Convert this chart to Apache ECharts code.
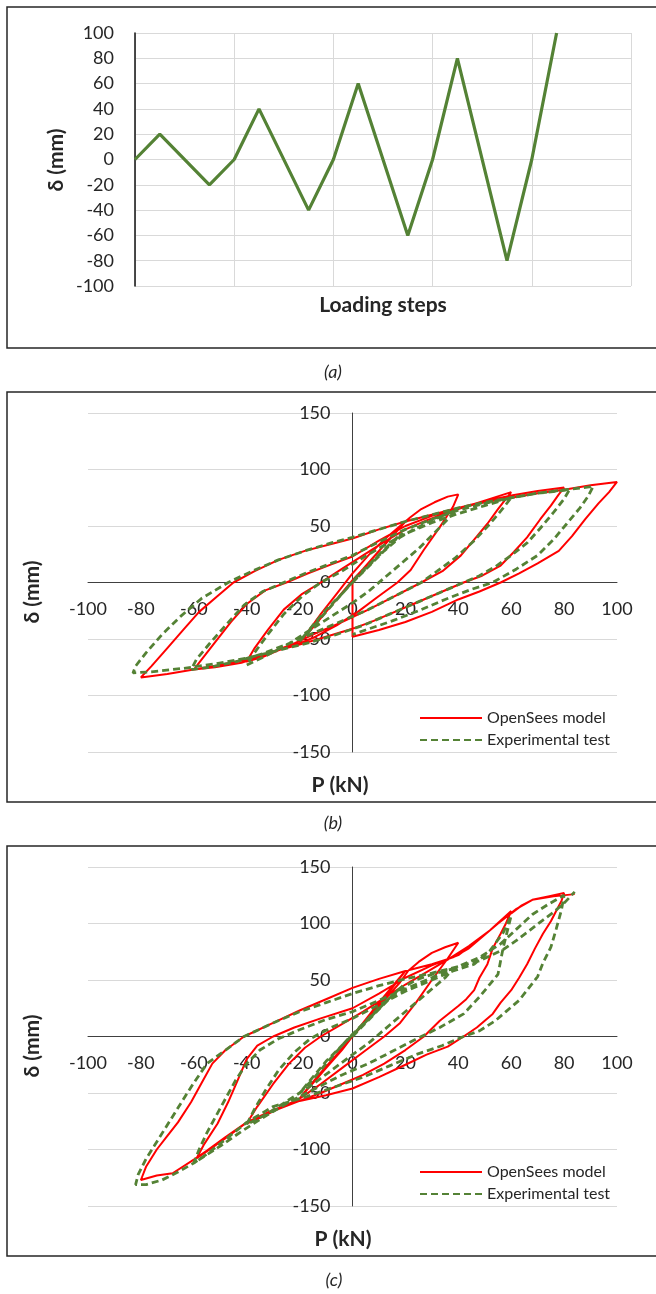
<!DOCTYPE html>
<html>
<head>
<meta charset="utf-8">
<script src="https://cdn.jsdelivr.net/npm/echarts@6/dist/echarts.min.js"></script>
<style>
  html, body { margin: 0; padding: 0; background: #fff; }
  #chart { width: 656px; height: 1294px; }
</style>
</head>
<body>
<div id="chart"></div>
<script>
// (a) loading protocol
const loadingStep  = [0, 1, 3, 4, 5, 7, 8, 9, 11, 12, 13, 15, 16, 17];
const loadingDelta = [0, 20, -20, 0, 40, -40, 0, 60, -60, 0, 80, -80, 0, 100];

const seriesNames = ['OpenSees model', 'Experimental test'];

// (b) hysteresis, [P (kN), delta (mm)]
const bModel = [
  [0,0],[6,17],[12,33],[17,46],[20,54],
  [16,44],[10,28],[4,12],[0,2],[-5,-12],[-10,-26],[-15,-40],[-20,-53],
  [-17,-44],[-12,-28],[-6,-10],[0,8],[6,24],[12,38],[18,50],[22,58],[26,65],[31,71],[36,76],[40,78],
  [38,67],[33,49],[27,29],[22,11],[17,0],[10,-12],[2,-26],[-6,-38],[-14,-48],[-20,-54],[-28,-60],[-34,-66],[-40,-70],
  [-37,-58],[-32,-42],[-26,-24],[-19,-10],[-12,0],[-4,12],[4,24],[12,36],[20,47],[28,55],[36,62],[44,68],[52,74],[60,80],
  [58,74],[55,65],[51,52],[46,38],[41,24],[34,10],[26,0],[16,-12],[6,-24],[-4,-35],[-14,-45],[-22,-54],[-32,-63],[-42,-71],[-52,-75],[-60,-77],
  [-57,-68],[-52,-53],[-46,-35],[-40,-19],[-33,-7],[-25,0],[-17,8],[-8,16],[0,23],[10,37],[20,50],[30,59],[40,66],[50,72],[60,77],[70,81],[80,84],
  [78,78],[75,68],[71,56],[66,40],[61,27],[56,15],[49,6],[42,0],[34,-8],[25,-17],[16,-26],[8,-34],[0,-41],[-10,-48],[-20,-55],[-30,-61],[-40,-68],[-50,-73],[-60,-77],[-70,-81],[-80,-84],
  [-76,-74],[-70,-58],[-64,-42],[-58,-26],[-51,-12],[-45,0],[-37,10],[-28,20],[-18,28],[-8,34],[0,39],[10,47],[20,54],[30,60],[40,66],[50,71],[60,75],[70,79],[80,82],[90,86],[100,89],
  [97,80],[93,70],[88,56],[83,41],[78,28],[70,17],[63,8],[56,0],[48,-8],[40,-15],[30,-26],[20,-35],[10,-42],[0,-48],[0,0]
];
const bExp = [
  [0,0],[5,12],[10,24],[15,35],[19,44],
  [15,36],[8,20],[2,6],[-4,-10],[-10,-24],[-15,-38],[-20,-52],
  [-16,-42],[-10,-26],[-4,-10],[0,0],[6,14],[12,28],[18,40],[24,48],[30,55],[35,60],[39,64],
  [36,56],[31,44],[25,30],[18,16],[12,4],[6,-8],[0,-18],[-8,-30],[-16,-42],[-24,-54],[-32,-64],[-40,-73],
  [-37,-62],[-32,-46],[-26,-28],[-19,-12],[-12,0],[-4,10],[4,22],[12,33],[20,43],[30,53],[40,61],[50,68],[60,75],
  [57,66],[52,52],[46,37],[39,22],[32,10],[26,0],[16,-12],[6,-24],[-4,-34],[-14,-44],[-24,-54],[-34,-63],[-44,-70],[-54,-75],[-61,-77],
  [-59,-68],[-54,-54],[-48,-38],[-41,-20],[-34,-8],[-26,0],[-18,8],[-8,17],[0,24],[10,36],[20,47],[30,56],[40,64],[50,70],[60,75],[70,79],[82,82],
  [80,74],[76,62],[71,48],[66,35],[60,24],[54,14],[48,6],[42,0],[34,-8],[24,-18],[14,-28],[4,-38],[-6,-46],[-16,-53],[-28,-60],[-40,-67],[-52,-72],[-64,-76],[-76,-79],[-83,-80],
  [-82,-74],[-78,-62],[-72,-46],[-65,-30],[-57,-14],[-47,0],[-38,10],[-28,20],[-18,28],[-8,35],[0,40],[10,47],[20,54],[30,60],[40,66],[50,71],[60,75],[70,79],[80,82],[91,85],
  [89,76],[86,66],[81,52],[76,38],[70,24],[62,12],[53,0],[45,-6],[35,-15],[25,-25],[15,-34],[5,-42],[0,-46]
];

// (c) hysteresis, [P (kN), delta (mm)]
const cModel = [
  [0,0],[7,20],[14,40],[20,58],
  [16,47],[10,30],[4,12],[0,0],[-6,-16],[-12,-32],[-17,-46],[-20,-55],
  [-16,-44],[-10,-28],[-4,-12],[0,0],[6,16],[12,32],[18,48],[21,58],[25,66],[30,74],[35,79],[40,83],
  [36,69],[30,50],[24,30],[18,12],[12,0],[4,-14],[-4,-28],[-12,-42],[-20,-55],[-28,-64],[-35,-72],[-40,-77],
  [-36,-62],[-30,-42],[-24,-24],[-18,-10],[-12,0],[-4,11],[4,22],[12,34],[20,46],[28,57],[36,68],[44,80],[52,94],[60,111],
  [58,100],[56,91],[53,78],[51,64],[48,52],[46,41],[43,33],[40,27],[33,14],[27,0],[20,-12],[12,-24],[4,-34],[-4,-42],[-12,-50],[-20,-57],[-30,-66],[-40,-76],[-48,-90],[-54,-100],[-59,-108],
  [-56,-95],[-51,-77],[-47,-58],[-44,-42],[-40,-20],[-36,-8],[-30,0],[-22,8],[-12,16],[0,25],[10,38],[20,52],[30,63],[40,72],[48,86],[55,100],[60,109],[64,116],[68,121],[74,124],[80,127],
  [79,120],[77,111],[75,102],[72,91],[69,78],[66,64],[63,52],[60,41],[56,30],[53,20],[47,8],[42,0],[36,-9],[28,-16],[20,-25],[10,-36],[0,-46],[-10,-52],[-20,-57],[-30,-65],[-40,-76],[-48,-89],[-55,-101],[-60,-109],[-68,-121],[-74,-123],[-80,-127],
  [-78,-115],[-74,-100],[-70,-88],[-66,-76],[-61,-58],[-57,-41],[-53,-24],[-48,-12],[-41,0],[-30,12],[-20,23],[-10,33],[0,43],[10,51],[20,58],[30,64],[38,70],[44,78],[50,90],[56,102],[62,113],[68,121],[76,124],[84,126]
];
const cExp = [
  [0,0],[5,12],[10,24],[15,36],[19,45],
  [14,34],[8,20],[2,6],[-4,-8],[-10,-22],[-15,-36],[-20,-50],
  [-15,-38],[-10,-24],[-4,-8],[0,2],[6,16],[12,30],[18,42],[24,50],[30,55],[38,60],
  [35,52],[30,42],[24,30],[18,18],[12,6],[6,-6],[0,-16],[-8,-30],[-16,-44],[-24,-56],[-32,-68],[-40,-78],
  [-37,-64],[-33,-48],[-28,-30],[-22,-14],[-16,-2],[-8,8],[0,16],[10,28],[20,40],[30,50],[38,58],[46,64],[52,76],[57,92],[60,107],
  [57,79],[55,55],[48,35],[42,20],[33,8],[26,0],[16,-12],[6,-24],[-4,-34],[-14,-46],[-24,-58],[-34,-72],[-42,-84],[-50,-97],[-56,-106],[-60,-112],
  [-58,-100],[-55,-85],[-52,-72],[-48,-55],[-44,-38],[-40,-24],[-35,-12],[-28,-2],[-20,6],[-10,15],[0,22],[10,32],[20,42],[30,52],[40,62],[48,70],[56,82],[62,95],[68,108],[74,117],[80,125],
  [79,112],[77,95],[75,79],[72,65],[70,53],[66,41],[63,32],[58,22],[54,14],[48,5],[42,0],[34,-8],[24,-16],[14,-26],[4,-36],[-6,-44],[-17,-53],[-30,-62],[-40,-76],[-48,-91],[-55,-104],[-60,-112],[-66,-120],[-72,-127],[-78,-131],[-82,-131],
  [-81,-122],[-78,-108],[-75,-97],[-71,-82],[-67,-67],[-63,-52],[-60,-41],[-55,-24],[-48,-12],[-41,0],[-30,12],[-20,22],[-10,30],[0,38],[10,45],[20,51],[30,56],[40,62],[48,67],[57,77],[62,85],[67,94],[72,103],[76,110],[80,118],[84,128]
];

const FONT = 'Lato, "Open Sans", sans-serif';
const C = {
  model: '#ff0000',
  exp: '#548235',
  grid: '#d9d9d9',
  axis: '#404040',
  text: '#262626',
  frame: '#262626'
};

const chart = echarts.init(document.getElementById('chart'), null, { renderer: 'canvas' });

const labelStyle = { color: C.text, fontSize: 18, fontFamily: FONT };

// hysteresis axes cross in the middle of the plot (0, 0): shift them inward
const LOOP_W = 529, LOOP_H = 339;
function loopX(gi) {
  return {
    type: 'value', gridIndex: gi, min: -100, max: 100, interval: 20,
    position: 'bottom', offset: -LOOP_H / 2,
    axisLine: { show: true, onZero: false, lineStyle: { color: C.axis, width: 1 } },
    axisTick: { show: false },
    axisLabel: { ...labelStyle, margin: 18 },
    splitLine: { show: false }
  };
}
function loopY(gi) {
  return {
    type: 'value', gridIndex: gi, min: -150, max: 150, interval: 50,
    position: 'left', offset: -LOOP_W / 2,
    axisLine: { show: true, onZero: false, lineStyle: { color: C.axis, width: 1 } },
    axisTick: { show: false },
    axisLabel: { ...labelStyle, margin: 22 },
    splitLine: { show: true, lineStyle: { color: C.grid, width: 1 } }
  };
}
function loopSeries(gi, model, exp) {
  return [
    {
      name: seriesNames[0], type: 'line', xAxisIndex: gi, yAxisIndex: gi,
      data: model, symbol: 'none', smooth: false,
      lineStyle: { color: C.model, width: 2 }, itemStyle: { color: C.model }, z: 3
    },
    {
      name: seriesNames[1], type: 'line', xAxisIndex: gi, yAxisIndex: gi,
      data: exp, symbol: 'none', smooth: false,
      lineStyle: { color: C.exp, width: 2.8, type: [7, 4] }, itemStyle: { color: C.exp }, z: 4
    }
  ];
}
function legendAt(top) {
  return {
    data: seriesNames, orient: 'vertical', left: 414, top: top,
    itemWidth: 62, itemHeight: 12, itemGap: 6,
    itemStyle: { opacity: 0 },
    textStyle: { color: C.text, fontSize: 16, fontFamily: FONT },
    selectedMode: false
  };
}
function frame(y, h) {
  return { type: 'rect', shape: { x: 7, y: y, width: 700, height: h },
           style: { fill: 'none', stroke: C.frame, lineWidth: 1.5 }, silent: true };
}
function text(str, x, y, opts) {
  return Object.assign({
    type: 'text', x: x, y: y,
    style: { text: str, fill: C.text, font: 'bold 21px ' + FONT, align: 'center', verticalAlign: 'middle' },
    silent: true
  }, opts || {});
}
function vtext(str, x, y) {
  return text(str, x, y, { rotation: Math.PI / 2 });
}
function caption(str, x, y) {
  return {
    type: 'text', x: x, y: y, silent: true,
    style: { text: str, fill: C.text, font: 'italic 18px ' + FONT, align: 'center', verticalAlign: 'middle' }
  };
}

const option = {
  animation: false,
  backgroundColor: '#fff',
  grid: [
    { left: 135, top: 33, width: 496, height: 253 },
    { left: 88, top: 413, width: LOOP_W, height: LOOP_H },
    { left: 88, top: 867, width: LOOP_W, height: LOOP_H }
  ],
  xAxis: [
    {
      type: 'value', gridIndex: 0, min: 0, max: 20, interval: 4,
      axisLine: { show: false }, axisTick: { show: false }, axisLabel: { show: false },
      splitLine: { show: true, lineStyle: { color: C.grid, width: 1 } }
    },
    loopX(1),
    loopX(2)
  ],
  yAxis: [
    {
      type: 'value', gridIndex: 0, min: -100, max: 100, interval: 20,
      axisLine: { show: true, lineStyle: { color: '#111', width: 1.5 } },
      axisTick: { show: false },
      axisLabel: { ...labelStyle, margin: 21 },
      splitLine: { show: true, lineStyle: { color: C.grid, width: 1 } }
    },
    loopY(1),
    loopY(2)
  ],
  legend: [legendAt(705), legendAt(1159)],
  series: [
    {
      name: 'Loading', type: 'line', xAxisIndex: 0, yAxisIndex: 0,
      data: loadingStep.map((s, i) => [s, loadingDelta[i]]),
      symbol: 'none', lineStyle: { color: C.exp, width: 3.2 }, itemStyle: { color: C.exp }
    },
    ...loopSeries(1, bModel, bExp),
    ...loopSeries(2, cModel, cExp)
  ],
  graphic: [
    frame(7, 341),
    frame(392, 410),
    frame(846, 410),
    vtext('δ (mm)', 56, 160),
    text('Loading steps', 383, 305),
    caption('(a)', 333, 372),
    vtext('δ (mm)', 32, 592),
    text('P (kN)', 340, 785),
    caption('(b)', 333, 823),
    vtext('δ (mm)', 32, 1046),
    text('P (kN)', 343, 1239),
    caption('(c)', 334, 1280)
  ]
};

chart.setOption(option);
</script>
</body>
</html>
